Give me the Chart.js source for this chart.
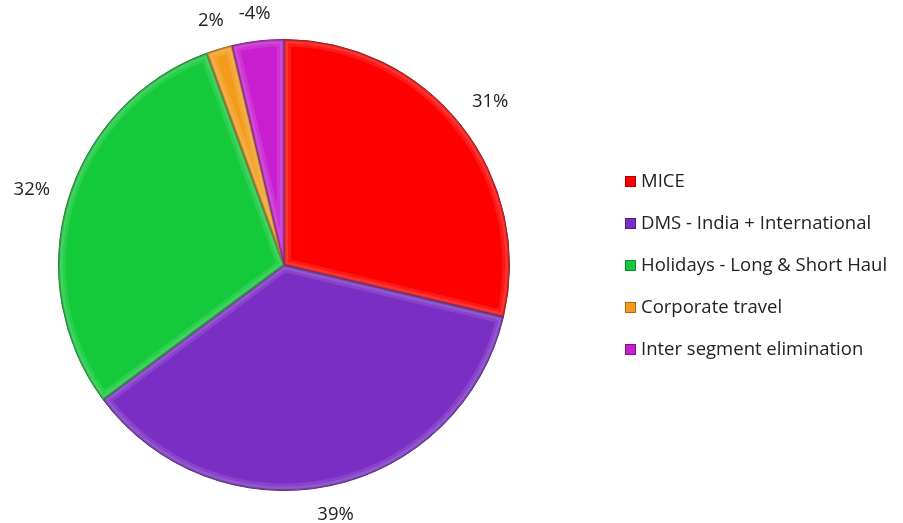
<!DOCTYPE html>
<html>
<head>
<meta charset="utf-8">
<script src="https://cdn.jsdelivr.net/npm/chart.js@4"></script>
<style>
  body { margin: 0; background: #fff; }
  canvas { display: block; }
</style>
</head>
<body>
<canvas id="segmentChart" width="903" height="523"></canvas>
<script>
// Segment split
const segments = ['MICE', 'DMS - India + International', 'Holidays - Long & Short Haul', 'Corporate travel', 'Inter segment elimination'];
const shares = [31, 39, 32, 2, -4];
const fillColors = ['#FF0000', '#7A2EC4', '#14C93A', '#F39C1C', '#C81ED0'];
const edgeColors = ['#B00000', '#4E1A86', '#0B8A25', '#B06A0A', '#86108C'];

const FONT = '18.5px "Open Sans", Lato, sans-serif';

// soft bevel along each slice edge
const sliceBevel = {
    id: 'sliceBevel',
    afterDatasetsDraw(chart) {
        const ctx = chart.ctx;
        const meta = chart.getDatasetMeta(0);
        meta.data.forEach((arc, i) => {
            ctx.save();
            ctx.beginPath();
            ctx.moveTo(arc.x, arc.y);
            ctx.arc(arc.x, arc.y, arc.outerRadius, arc.startAngle, arc.endAngle);
            ctx.closePath();
            ctx.clip();
            ctx.lineJoin = 'round';
            ctx.strokeStyle = 'rgba(255,255,255,0.1)';
            ctx.lineWidth = 14;
            ctx.stroke();
            ctx.strokeStyle = 'rgba(255,255,255,0.1)';
            ctx.lineWidth = 8;
            ctx.stroke();
            ctx.strokeStyle = 'rgba(0,0,0,0.2)';
            ctx.lineWidth = 3;
            ctx.stroke();
            ctx.restore();
        });
    }
};

// labels outside each slice, value + '%'
const outsideLabels = {
    id: 'outsideLabels',
    afterDatasetsDraw(chart) {
        const ctx = chart.ctx;
        const meta = chart.getDatasetMeta(0);
        ctx.save();
        ctx.font = FONT;
        ctx.fillStyle = '#222';
        ctx.textAlign = 'center';
        ctx.textBaseline = 'middle';
        meta.data.forEach((arc, i) => {
            const text = shares[i] + '%';
            const mid = (arc.startAngle + arc.endAngle) / 2;
            const ux = Math.cos(mid), uy = Math.sin(mid);
            const hw = ctx.measureText(text).width / 2, hh = 8;
            const dist = arc.outerRadius + 18 + Math.abs(ux) * hw + Math.abs(uy) * hh;
            ctx.fillText(text, arc.x + ux * dist, arc.y + uy * dist);
        });
        ctx.restore();
    }
};

// legend column on the right
const sideLegend = {
    id: 'sideLegend',
    afterDraw(chart) {
        const ctx = chart.ctx;
        const x = 625, y0 = 181, step = 42;
        ctx.save();
        ctx.font = FONT;
        ctx.textBaseline = 'middle';
        segments.forEach((name, i) => {
            const y = y0 + i * step;
            ctx.fillStyle = fillColors[i];
            ctx.fillRect(x, y - 5, 11, 11);
            ctx.strokeStyle = edgeColors[i];
            ctx.lineWidth = 1;
            ctx.strokeRect(x + 0.5, y - 4.5, 10, 10);
            ctx.fillStyle = '#222';
            ctx.fillText(name, x + 16, y + 1);
        });
        ctx.restore();
    }
};

new Chart(document.getElementById('segmentChart'), {
    type: 'pie',
    data: {
        labels: segments,
        datasets: [{
            data: shares,
            backgroundColor: fillColors,
            borderColor: edgeColors,
            borderWidth: 1
        }]
    },
    options: {
        responsive: false,
        animation: false,
        layout: { padding: { left: 58, right: 393, top: 39, bottom: 32 } },
        plugins: {
            legend: { display: false },
            tooltip: { enabled: false }
        }
    },
    plugins: [sliceBevel, outsideLabels, sideLegend]
});
</script>
</body>
</html>
